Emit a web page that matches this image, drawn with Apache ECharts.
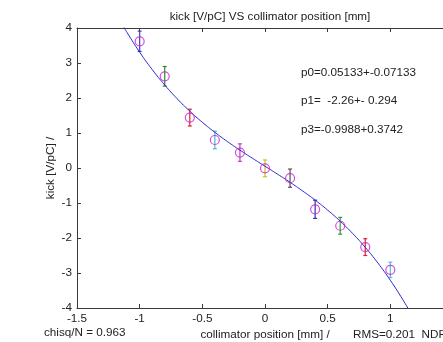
<!DOCTYPE html>
<html>
<head>
<meta charset="utf-8">
<script src="https://cdn.jsdelivr.net/npm/echarts@6/dist/echarts.min.js"></script>
<style>html,body{margin:0;padding:0;background:#fff}#c{width:443px;height:342px}</style>
</head>
<body>
<div id="c"></div>
<script>
// measured points
var xPos = [-1, -0.8, -0.6, -0.4, -0.2, 0, 0.2, 0.4, 0.6, 0.8, 1.0];
var kick = [3.62, 2.62, 1.44, 0.80, 0.44, -0.01, -0.29, -1.18, -1.65, -2.26, -2.91];
var kickErr = [0.29, 0.28, 0.24, 0.25, 0.25, 0.24, 0.26, 0.26, 0.24, 0.24, 0.22];
var barColors = ['#4040c8', '#2a8a2a', '#e02030', '#40c0d0', '#c040c0', '#c8c020', '#505050', '#3030b0', '#30a030', '#e02030', '#50c0d0'];
// fitted curve, sampled
var fitX = [-1.13, -1.1, -1.0, -0.9, -0.8, -0.7, -0.6, -0.5, -0.4, -0.3, -0.2, -0.1, 0, 0.1, 0.2, 0.3, 0.4, 0.5, 0.6, 0.7, 0.8, 0.9, 1.0, 1.1, 1.15];
var fitY = [4.046, 3.867, 3.310, 2.813, 2.371, 1.976, 1.623, 1.306, 1.019, 0.756, 0.511, 0.278, 0.051, -0.176, -0.409, -0.656, -0.917, -1.204, -1.520, -1.873, -2.268, -2.711, -3.208, -3.764, -4.067];
// axis ticks
var xTicks = [-1.5, 1.5, 0.5];
var yTicks = [-4, 4, 1];
// texts
var titleText = 'kick [V/pC] VS collimator position [mm]';
var xName = 'collimator position [mm] /';
var yName = 'kick [V/pC] /';
var fitParams = ['p0=0.05133+-0.07133', 'p1=  -2.26+- 0.294', 'p3=-0.9988+0.3742'];
var chisqText = 'chisq/N = 0.963';
var rmsText = 'RMS=0.201  NDF=9';

var font = 'Liberation Sans, Arial, sans-serif';
var fs = 11.7;
var chart = echarts.init(document.getElementById('c'), null, {renderer: 'canvas'});

var errData = xPos.map(function (x, i) { return [x, kick[i], kickErr[i]]; });
var ptData = xPos.map(function (x, i) { return [x, kick[i]]; });
var fitData = fitX.map(function (x, i) { return [x, fitY[i]]; });

var axisCommon = {
  axisLine: {show: true, onZero: false, lineStyle: {color: '#3a3a3a', width: 1}},
  axisTick: {show: true, inside: true, length: 4, lineStyle: {color: '#3a3a3a'}},
  splitLine: {show: false},
  axisLabel: {color: '#222', fontFamily: font, fontSize: fs}
};

chart.setOption({
  animation: false,
  backgroundColor: '#fff',
  title: {
    text: titleText, left: 265, top: 6, textAlign: 'center',
    textStyle: {fontFamily: font, fontSize: fs, fontWeight: 'normal', color: '#222'}
  },
  grid: {left: 77, top: 28, width: 376, height: 280, containLabel: false, outerBoundsMode: 'none'},
  xAxis: [
    Object.assign({}, axisCommon, {
      type: 'value', position: 'bottom', min: xTicks[0], max: xTicks[1], interval: xTicks[2],
      axisLabel: Object.assign({}, axisCommon.axisLabel, {margin: 5}),
      name: xName, nameLocation: 'middle', nameGap: 21, nameMoveOverlap: false,
      nameTextStyle: {fontFamily: font, fontSize: fs, color: '#222'}
    }),
    Object.assign({}, axisCommon, {
      type: 'value', position: 'top', min: xTicks[0], max: xTicks[1], interval: xTicks[2],
      axisLabel: {show: false}
    })
  ],
  yAxis: [
    Object.assign({}, axisCommon, {
      type: 'value', position: 'left', min: yTicks[0], max: yTicks[1], interval: yTicks[2],
      axisLabel: Object.assign({}, axisCommon.axisLabel, {margin: 5}),
      name: yName, nameLocation: 'middle', nameGap: 20, nameRotate: 90, nameMoveOverlap: false,
      nameTextStyle: {fontFamily: font, fontSize: fs, color: '#222'}
    })
  ],
  graphic: [
    {type: 'text', left: 301, top: 67, style: {text: fitParams[0], font: fs + 'px ' + font, fill: '#222'}},
    {type: 'text', left: 301, top: 95, style: {text: fitParams[1], font: fs + 'px ' + font, fill: '#222'}},
    {type: 'text', left: 301, top: 124, style: {text: fitParams[2], font: fs + 'px ' + font, fill: '#222'}},
    {type: 'text', left: 44, top: 327, style: {text: chisqText, font: fs + 'px ' + font, fill: '#222'}},
    {type: 'text', left: 353, top: 329, style: {text: rmsText, font: fs + 'px ' + font, fill: '#222'}}
  ],
  series: [
    {
      type: 'custom', xAxisIndex: 0, yAxisIndex: 0, data: errData, z: 2,
      renderItem: function (params, api) {
        var x = api.value(0), y = api.value(1), e = api.value(2);
        var t = api.coord([x, y + e]), b = api.coord([x, y - e]);
        var c = barColors[params.dataIndex];
        var st = {stroke: c, lineWidth: 1.2, fill: null};
        return {type: 'group', children: [
          {type: 'line', shape: {x1: t[0], y1: t[1], x2: b[0], y2: b[1]}, style: st},
          {type: 'line', shape: {x1: t[0] - 2, y1: t[1], x2: t[0] + 2, y2: t[1]}, style: st},
          {type: 'line', shape: {x1: b[0] - 2, y1: b[1], x2: b[0] + 2, y2: b[1]}, style: st}
        ]};
      }
    },
    {
      type: 'line', data: fitData, showSymbol: false, smooth: true, clip: true, z: 3,
      lineStyle: {color: '#2828d0', width: 1}
    },
    {
      type: 'scatter', data: ptData, symbol: 'circle', symbolSize: 9, z: 4,
      itemStyle: {color: 'rgba(0,0,0,0)', borderColor: '#cc22cc', borderWidth: 1.2}
    }
  ]
});
</script>
</body>
</html>
